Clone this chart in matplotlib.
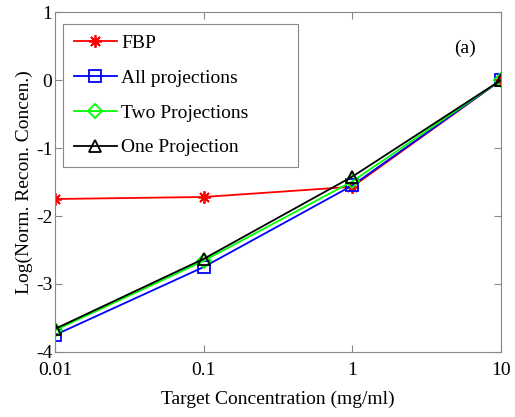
import numpy as np
import matplotlib
matplotlib.use('Agg')
import matplotlib.pyplot as plt

# Dados
concentracao = [0.01, 0.1, 1, 10]
fbp = [-1.75, -1.72, -1.57, 0.0]
todas_proj = [-3.75, -2.75, -1.55, 0.0]
duas_proj = [-3.68, -2.66, -1.49, 0.0]
uma_proj = [-3.66, -2.63, -1.42, 0.0]

plt.rcParams['font.family'] = ['Liberation Serif', 'DejaVu Serif']

fig = plt.figure(figsize=(5.15, 4.17), dpi=100)
ax = fig.add_axes([0.107, 0.156, 0.866, 0.815])

fs = 14
ax.plot(concentracao, fbp, color='#ff0000', marker=(8, 2, 0), markersize=9, mew=1.3, lw=1.3, label='FBP')
ax.plot(concentracao, todas_proj, color='#0000ff', marker='s', markersize=8, mfc='none', mew=1.3, lw=1.3, label='All projections')
ax.plot(concentracao, duas_proj, color='#00ff00', marker='D', markersize=7, mfc='none', mew=1.3, lw=1.3, label='Two Projections')
ax.plot(concentracao, uma_proj, color='black', marker='^', markersize=9, mfc='none', mew=1.3, lw=1.3, label='One Projection')

ax.set_xscale('log')
ax.set_xlim(0.01, 10)
ax.set_ylim(-4, 1)
ax.set_xticks(concentracao)
ax.set_xticklabels(['0.01', '0.1', '1', '10'])
ax.minorticks_off()
ax.set_yticks([-4, -3, -2, -1, 0, 1])
ax.set_yticklabels(['-4', '-3', '-2', '-1', '0', '1'])

for s in ax.spines.values():
    s.set_color('#888888')
    s.set_linewidth(0.8)
ax.tick_params(direction='in', top=True, right=True, length=5, color='#888888',
               labelsize=fs, labelcolor='black')
ax.tick_params(axis='x', pad=7)
ax.tick_params(axis='y', pad=2)

ax.set_xlabel('Target Concentration (mg/ml)', fontsize=fs, labelpad=9)
ax.set_ylabel('Log(Norm. Recon. Concen.)', fontsize=fs, labelpad=2)

ax.text(0.919, 0.894, '(a)', transform=ax.transAxes, fontsize=fs, ha='center', va='center')

# caixa da legenda mais larga, como no original
leg = ax.legend(loc='upper left', bbox_to_anchor=(0.018, 0.553, 0.527, 0.412), mode='expand',
                borderaxespad=0, fontsize=fs, handlelength=2.2, labelspacing=0.88,
                fancybox=False, edgecolor='#888888', framealpha=1, handletextpad=0.25,
                borderpad=0.55)
leg.get_frame().set_linewidth(0.8)

plt.savefig('out.png', dpi=100)
plt.close()
